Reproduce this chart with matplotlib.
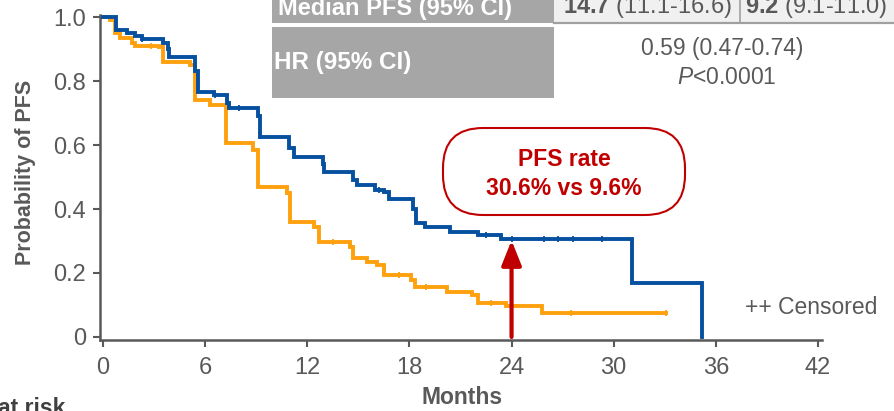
import numpy as np
import matplotlib
matplotlib.use('Agg')
import matplotlib.pyplot as plt
from matplotlib.patches import Rectangle, FancyBboxPatch

plt.rcParams['font.family'] = ['Liberation Sans', 'DejaVu Sans']
plt.rcParams['mathtext.fontset'] = 'custom'
plt.rcParams['mathtext.rm'] = 'Liberation Sans'
plt.rcParams['mathtext.it'] = 'Liberation Sans:italic'
plt.rcParams['mathtext.bf'] = 'Liberation Sans:bold'

# ---------------- data ----------------
blue_t = [0, 0.76, 1.4, 1.9, 2.3, 3.5, 3.8, 3.9, 5.4, 5.6, 6.5, 7.3, 7.4, 9.1, 9.2,
          10.9, 11.2, 12.9, 13.0, 14.7, 14.9, 16.0, 16.5, 16.8, 18.2, 18.4, 18.9,
          20.4, 22.0, 23.4, 31.1, 35.2]
blue_s = [1.0, 0.96, 0.95, 0.94, 0.93, 0.92, 0.90, 0.875, 0.83, 0.766, 0.755, 0.73,
          0.715, 0.69, 0.625, 0.59, 0.5625, 0.54, 0.515, 0.49, 0.475, 0.46, 0.453,
          0.43, 0.40, 0.356, 0.344, 0.328, 0.32, 0.306, 0.169, 0.0]
blue_cens = [2.3, 6.6, 8.0, 16.2, 22.5, 24.0, 25.9, 26.7, 27.6, 29.3]

orange_t = [0, 0.4, 0.7, 1.0, 1.7, 1.9, 3.3, 3.5, 5.1, 5.4, 6.3, 7.2, 8.8, 9.1,
            10.8, 11.0, 12.4, 12.7, 14.5, 14.7, 15.5, 16.1, 16.5, 18.1, 18.3,
            20.2, 21.7, 22.0, 23.7, 25.8]
orange_s = [1.0, 0.99, 0.95, 0.935, 0.92, 0.91, 0.905, 0.86, 0.85, 0.74, 0.725,
            0.606, 0.585, 0.47, 0.45, 0.36, 0.344, 0.297, 0.28, 0.247, 0.234,
            0.225, 0.194, 0.178, 0.156, 0.14, 0.13, 0.106, 0.096, 0.075]
orange_end = 33.1
orange_cens = [2.8, 13.5, 17.4, 19.0, 22.8, 27.5, 33.1]

x_ticks = [0, 6, 12, 18, 24, 30, 36, 42]
y_ticks = [0, 0.2, 0.4, 0.6, 0.8, 1.0]
y_ticklabels = ['0', '0.2', '0.4', '0.6', '0.8', '1.0']
landmark = 24
rate_blue, rate_orange = 30.6, 9.6

BLUE = '#0650a0'
ORANGE = '#ffa00f'
RED = '#c00000'
GRAY = '#595959'

W, H = 895, 411
fig = plt.figure(figsize=(W / 100, H / 100), dpi=100)


def fx(px):
    return px / W


def fy(py):
    return 1 - py / H


ax = fig.add_axes([fx(100), fy(340), (822 - 100) / W, (340 - 15) / H])
ax.set_xlim(-0.18, 42.24)
ax.set_ylim(-0.0094, 1.0063)


def surv_at(ts, ss, t):
    i = np.searchsorted(ts, t, side='right') - 1
    return np.asarray(ss)[i]


# orange curve
ot = list(orange_t) + [orange_end]
os_ = list(orange_s) + [orange_s[-1]]
ax.step(ot, os_, where='post', color=ORANGE, lw=2.8, zorder=3, solid_joinstyle='miter')
ax.plot(orange_cens, [surv_at(orange_t, orange_s, c) for c in orange_cens], ls='none',
        marker='|', ms=5, mew=1.3, color=ORANGE, zorder=3)
# blue curve
ax.step(blue_t, blue_s, where='post', color=BLUE, lw=2.8, zorder=4, solid_joinstyle='miter')
ax.plot(blue_cens, [surv_at(blue_t, blue_s, c) for c in blue_cens], ls='none',
        marker='|', ms=5, mew=1.3, color=BLUE, zorder=4)

# arrow at landmark
ax.annotate('', xy=(landmark, surv_at(blue_t, blue_s, landmark) - 0.004), xytext=(landmark, 0),
            arrowprops=dict(arrowstyle='-|>,head_length=0.75,head_width=0.3', lw=3,
                            color=RED, shrinkA=0, shrinkB=0, mutation_scale=20),
            zorder=5)

for s in ['top', 'right']:
    ax.spines[s].set_visible(False)
for s in ['left', 'bottom']:
    ax.spines[s].set_color(GRAY)
    ax.spines[s].set_linewidth(1.8)
ax.set_xticks(x_ticks)
ax.set_xticklabels([str(v) for v in x_ticks])
ax.set_yticks(y_ticks)
ax.set_yticklabels(y_ticklabels)
ax.tick_params(direction='out', length=5, width=1.5, color=GRAY, labelcolor=GRAY,
               labelsize=17)
ax.tick_params(axis='x', pad=7)
ax.tick_params(axis='y', pad=5)
ax.set_ylabel('Probability of PFS', fontsize=15.5, fontweight='bold', color=GRAY)
ax.yaxis.set_label_coords((36 - 100) / 722, (340 - 172) / 325)
ax.set_xlabel('Months', fontsize=16.5, fontweight='bold', color=GRAY)
ax.xaxis.set_label_coords(((462 - 100) / 722), -(386 - 340) / 325)

# ---------------- overlay (table, annotations) ----------------
ov = fig.add_axes([0, 0, 1, 1], zorder=10)
ov.set_xlim(0, W)
ov.set_ylim(H, 0)
ov.axis('off')

# gray header cells
ov.add_patch(Rectangle((272, -20), 554 - 272, 23 + 20, facecolor='#a6a6a6', edgecolor='none'))
ov.add_patch(Rectangle((272, 27), 554 - 272, 98 - 27, facecolor='#a6a6a6', edgecolor='none'))
# light value cells
ov.add_patch(Rectangle((554, -20), W - 554 + 5, 22 + 20, facecolor='#f0f0f0', edgecolor='none'))
ov.plot([554, W], [23, 23], color='#a0a0a0', lw=1.6)
ov.plot([740, 740], [0, 23], color='#a0a0a0', lw=1.2)

ov.text(278, 15, 'Median PFS (95% CI)', color='white', fontsize=17, fontweight='bold',
        ha='left', va='baseline')
ov.text(274, 62, 'HR (95% CI)', color='white', fontsize=17.5, fontweight='bold',
        ha='left', va='center')
ov.text(563, 13, r'$\mathbf{14.7}$ (11.1-16.6)', color=GRAY, fontsize=17,
        ha='left', va='baseline')
ov.text(745, 13, r'$\mathbf{9.2}$ (9.1-11.0)', color=GRAY, fontsize=17,
        ha='left', va='baseline')
ov.text(722, 48, '0.59 (0.47-0.74)', color=GRAY, fontsize=16.5, ha='center', va='center')
ov.text(727, 77, r'$P$<0.0001', color=GRAY, fontsize=16.5, ha='center', va='center')

# PFS rate box
ov.add_patch(FancyBboxPatch((443, 128), 685 - 443, 215 - 128,
                            boxstyle='round,pad=0,rounding_size=40',
                            facecolor='white', edgecolor=RED, lw=1.5))
ov.text(564, 159, 'PFS rate', color=RED, fontsize=16.5, fontweight='bold',
        ha='center', va='center')
ov.text(564, 188, f'{rate_blue}% vs {rate_orange}%', color=RED, fontsize=16.5,
        fontweight='bold', ha='center', va='center')

ov.text(745, 307, '++ Censored', color=GRAY, fontsize=16.5, ha='left', va='center')
ov.text(65, 397, 'at risk', color='#404040', fontsize=16.5, fontweight='bold',
        ha='right', va='top')

fig.savefig('out.png', dpi=100)
